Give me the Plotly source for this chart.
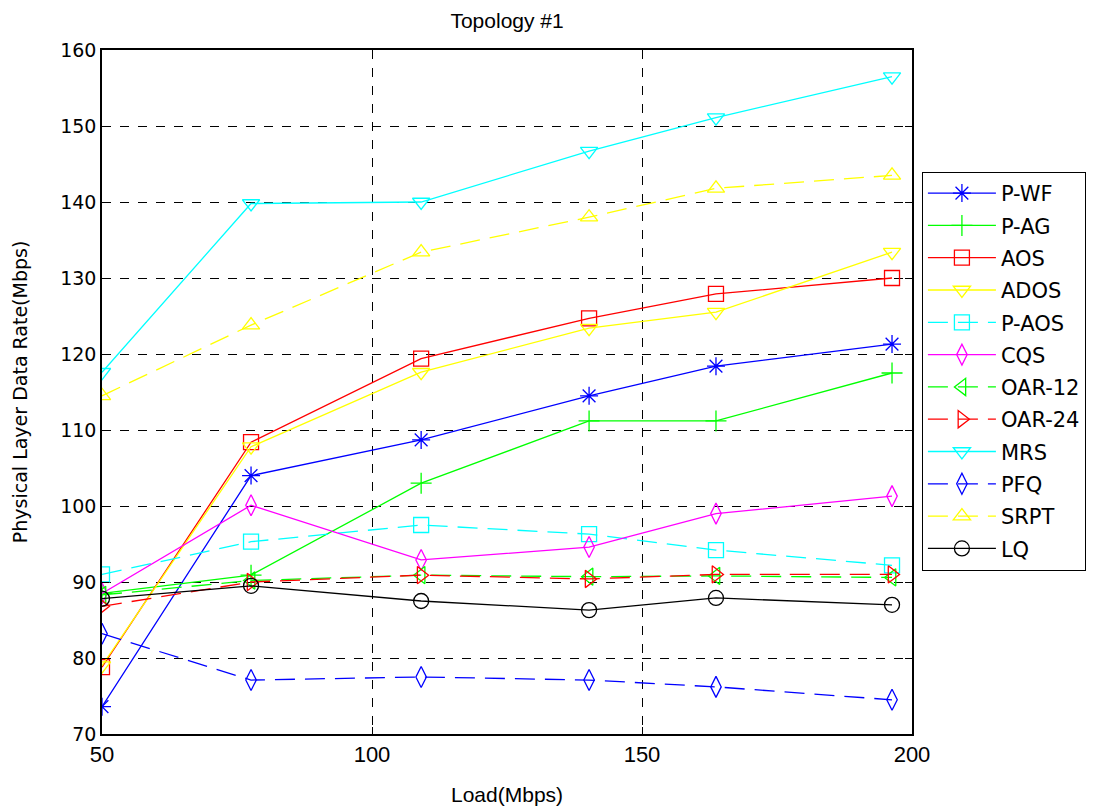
import plotly.graph_objects as go

load = [50, 77.6, 109.1, 140.2, 163.7, 196.3]

p_wf   = [73.6, 104.0, 108.7, 114.5, 118.4, 121.3]
p_ag   = [88.5, 90.9, 103.0, 111.2, 111.2, 117.5]
aos    = [78.8, 108.4, 119.4, 124.7, 127.9, 130.0]
ados   = [79.0, 107.8, 117.6, 123.4, 125.5, 133.4]
p_aos  = [91.0, 95.3, 97.5, 96.3, 94.2, 92.2]
cqs    = [88.5, 100.1, 92.9, 94.6, 99.0, 101.3]
oar12  = [88.3, 90.2, 90.9, 90.7, 90.8, 90.6]
oar24  = [86.8, 90.0, 90.9, 90.4, 91.0, 91.0]
mrs    = [117.6, 139.8, 140.0, 146.7, 151.1, 156.5]
pfq    = [83.2, 77.1, 77.5, 77.1, 76.2, 74.5]
srpt   = [114.5, 123.8, 133.4, 138.0, 141.8, 143.5]
lq     = [87.8, 89.5, 87.5, 86.3, 87.9, 87.0]

series = [
    ("P-WF", p_wf, "#0000ff", "asterisk-open", "solid"),
    ("P-AG", p_ag, "#00ff00", "cross-thin-open", "solid"),
    ("AOS", aos, "#ff0000", "square-open", "solid"),
    ("ADOS", ados, "#ffff00", "triangle-down-open", "solid"),
    ("P-AOS", p_aos, "#00ffff", "square-open", "20px,10px"),
    ("CQS", cqs, "#ff00ff", "diamond-tall-open", "solid"),
    ("OAR-12", oar12, "#00ff00", "triangle-left-open", "20px,10px"),
    ("OAR-24", oar24, "#ff0000", "triangle-right-open", "20px,10px"),
    ("MRS", mrs, "#00ffff", "triangle-down-open", "solid"),
    ("PFQ", pfq, "#0000ff", "diamond-tall-open", "20px,10px"),
    ("SRPT", srpt, "#ffff00", "triangle-up-open", "20px,10px"),
    ("LQ", lq, "#000000", "circle-open", "solid"),
]

fig = go.Figure()
for name, ys, color, sym, dash in series:
    fig.add_trace(go.Scatter(
        x=load, y=ys, name=name, legendgroup=name, mode="lines+markers",
        line=dict(color=color, width=1.3, dash=dash),
        marker=dict(symbol=sym, size=15, color=color, line=dict(color=color, width=1.3)),
    ))

axis_common = dict(
    showline=True, linecolor="black", linewidth=1.5, mirror="ticks",
    ticks="inside", ticklen=7, tickcolor="black",
    showgrid=True, gridcolor="black", gridwidth=1, griddash="dash",
    zeroline=False, automargin=False,
)

fig.update_layout(
    width=1112, height=809,
    paper_bgcolor="white", plot_bgcolor="white",
    margin=dict(l=102, r=200, t=50, b=75),
    title=dict(text="Topology #1", x=0.456, xanchor="center", y=0.975, yanchor="middle",
               font=dict(family="Liberation Sans Narrow, Liberation Sans, Arial", size=21, color="black")),
    xaxis=dict(range=[50, 200], tickvals=[50, 100, 150, 200],
               tickfont=dict(family="Liberation Sans Narrow, Liberation Sans, Arial", size=22, color="black"),
               **axis_common),
    yaxis=dict(range=[70, 160], tickvals=list(range(70, 161, 10)),
               tickfont=dict(family="DejaVu Sans, Arial", size=19, color="black"),
               **axis_common),
    legend=dict(x=1.012, y=0.822, xanchor="left", yanchor="top",
                bgcolor="white", bordercolor="black", borderwidth=1.2,
                font=dict(family="DejaVu Sans, Arial", size=21, color="black"),
                tracegroupgap=2, itemwidth=68),
    showlegend=True,
    annotations=[
        dict(text="Load(Mbps)", xref="paper", yref="paper", x=0.5, y=-0.089,
             xanchor="center", yanchor="middle", showarrow=False,
             font=dict(family="Liberation Sans Narrow, Liberation Sans, Arial", size=21, color="black")),
        dict(text="Physical Layer Data Rate(Mbps)", xref="paper", yref="paper", x=-0.101, y=0.5,
             xanchor="center", yanchor="middle", showarrow=False, textangle=-90,
             font=dict(family="DejaVu Sans, Arial", size=19, color="black")),
    ],
)

fig.write_html("out.html")
